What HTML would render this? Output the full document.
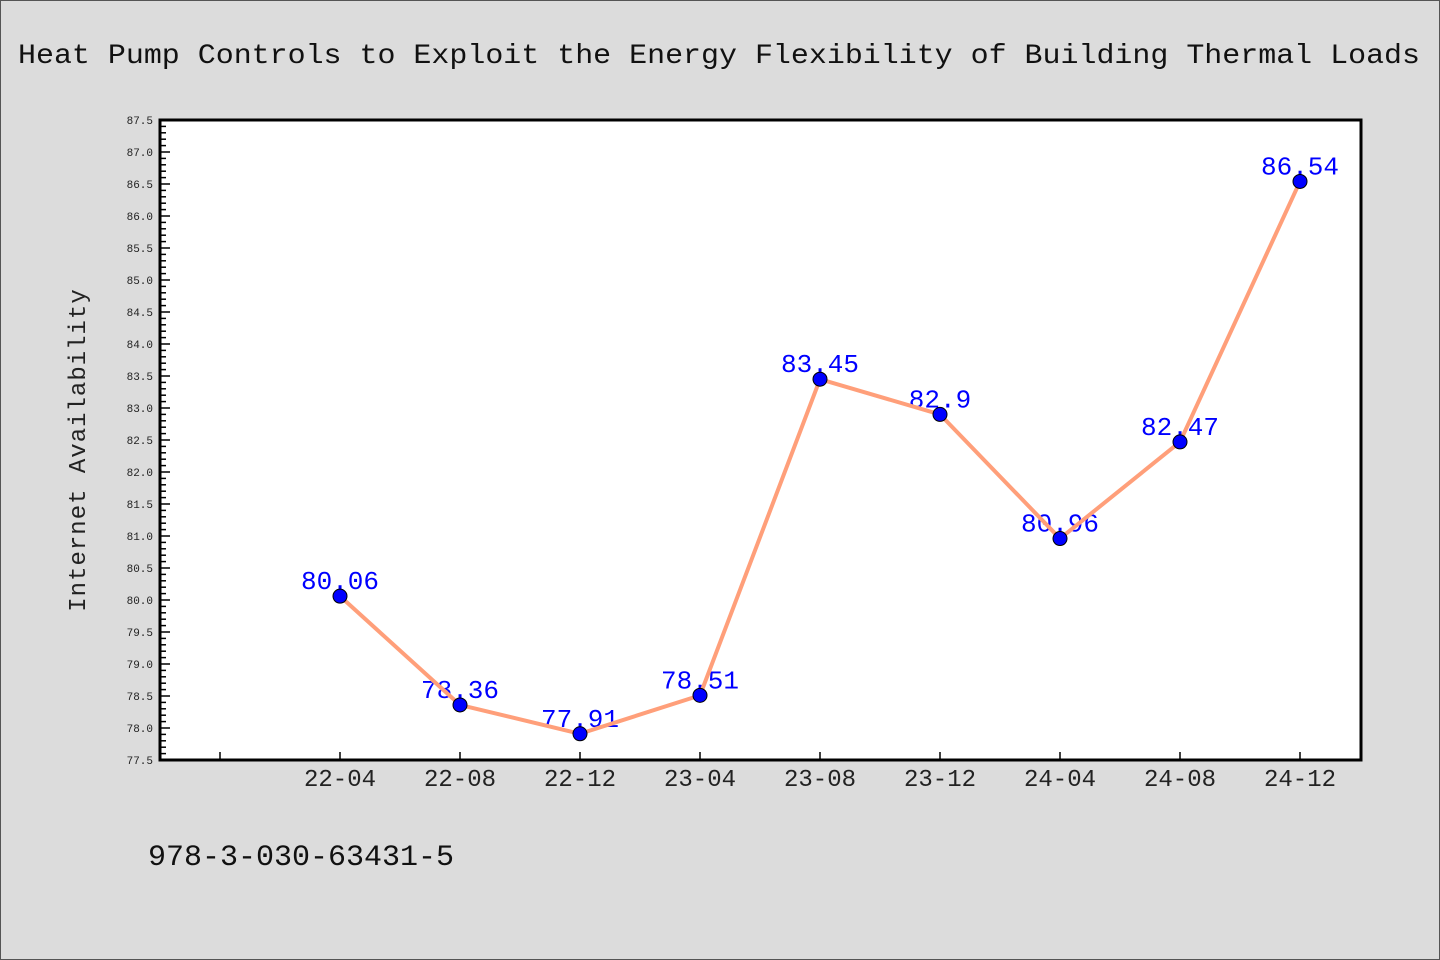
<!DOCTYPE html>
<html><head><meta charset="utf-8"><style>
html,body{margin:0;padding:0;background:#dcdcdc;}
svg{display:block;}
text{font-family:"WenQuanYi Zen Hei Mono","WenQuanYi Zen Hei","Liberation Mono",monospace;}
</style></head><body>
<svg id="chart" width="1440" height="960" xmlns="http://www.w3.org/2000/svg">
<rect x="0.5" y="0.5" width="1439" height="959" fill="#dcdcdc" stroke="#555"/>
<text x="18" y="63" font-size="28" fill="#111" textLength="1402" lengthAdjust="spacingAndGlyphs">Heat Pump Controls to Exploit the Energy Flexibility of Building Thermal Loads</text>
<rect x="160" y="120" width="1201" height="640" fill="#fff"/>
<g id="yticks"></g><g id="xticks"></g>
<g id="labels"></g>
<polyline id="line" fill="none" stroke="#ff9f7a" stroke-width="4" stroke-linejoin="round"/>
<g id="points"></g>
<rect x="160" y="120" width="1201" height="640" fill="none" stroke="#000" stroke-width="3"/>
<text transform="translate(85,450) rotate(-90)" text-anchor="middle" font-size="24" fill="#222" letter-spacing="1">Internet Availability</text>
<text x="148" y="865" font-size="30" fill="#111">978-3-030-63431-5</text>
</svg>
<script>
const categories = ["22-04","22-08","22-12","23-04","23-08","23-12","24-04","24-08","24-12"];
const values = [80.06,78.36,77.91,78.51,83.45,82.9,80.96,82.47,86.54];
const valueLabels = ["80.06","78.36","77.91","78.51","83.45","82.9","80.96","82.47","86.54"];
const yMin = 77.5, yMax = 87.5;
const NS = "http://www.w3.org/2000/svg";
function y(v){return 760 - (v - yMin) / (yMax - yMin) * 640;}
function x(i){return 340 + i * 120;}
function mk(tag, attrs, parent){const e=document.createElementNS(NS,tag);for(const k in attrs)e.setAttribute(k,attrs[k]);parent.appendChild(e);return e;}
const yt = document.getElementById('yticks');
for (let k = 0; k <= 100; k++) {
  const v = yMin + k * 0.1, yy = y(v), major = k % 5 === 0;
  const t = mk('line', {x1:160, x2:160 + (major ? 10 : 6), y1:yy, y2:yy, stroke:'#000', 'stroke-width':1.5}, yt);
  
  
  if (major) {
    const l = mk('text', {x:153, y:yy + 4, 'text-anchor':'end', 'font-size':11, fill:'#222'}, yt);
    l.textContent = v.toFixed(1);
    
    
  }
}
const xt = document.getElementById('xticks');
for (let i = -1; i < categories.length; i++) {
  const t = mk('line', {x1:x(i), x2:x(i), y1:760, y2:752, stroke:'#000', 'stroke-width':1.5}, xt);
  
  
  if (i >= 0) {
    const l = mk('text', {x:x(i), y:786, 'text-anchor':'middle', 'font-size':24, fill:'#222'}, xt);
    l.textContent = categories[i];
    
    
  }
}
const lb = document.getElementById('labels'), pts = document.getElementById('points');
document.getElementById('line').setAttribute('points', values.map((v,i)=>x(i)+','+y(v)).join(' '));
values.forEach((v,i)=>{
  const l = mk('text', {x:x(i), y:y(v) - 7, 'text-anchor':'middle', 'font-size':26, fill:'#0000ff'}, lb);
  l.textContent = valueLabels[i];
  
  
  const c = mk('circle', {cx:x(i), cy:y(v), r:7, fill:'#0000ff', stroke:'#000', 'stroke-width':1}, pts);
  
  
});
</script>
</body></html>
